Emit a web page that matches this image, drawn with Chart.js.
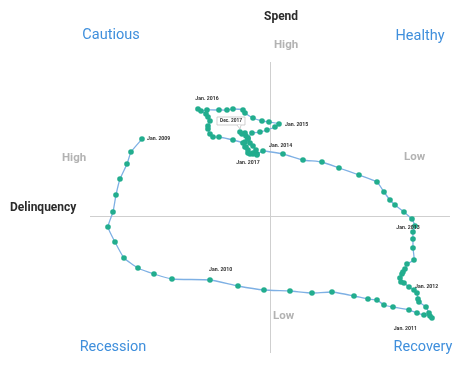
<!DOCTYPE html>
<html><head><meta charset="utf-8">
<script src="https://cdn.jsdelivr.net/npm/chart.js@4/dist/chart.umd.min.js"></script>
<style>html,body{margin:0;padding:0;background:#fff}#wrap{width:466px;height:366px}</style>
</head><body><div id="wrap"><canvas id="c" width="466" height="366"></canvas></div>
<script>
// Delinquency (x, positive = low delinquency) and Spend (y, positive = high spend), monthly Jan 2009 - Dec 2017
const delinquency = [-12.8,-13.9,-14.3,-15.0,-15.4,-15.7,-16.2,-15.5,-14.6,-13.2,-11.6,-9.8,
  -6.0,-3.2,-0.6,2.0,4.2,6.2,8.4,9.8,10.7,11.4,12.3,13.9,
  14.7,15.4,16.0,16.2,15.9,15.6,14.9,14.8,14.7,14.4,
  13.9,13.4,13.1,13.0,13.2,13.3,13.5,13.7,14.4,14.3,14.3,14.3,
  14.5,14.2,13.4,12.5,12.0,11.4,10.7,8.9,6.9,5.2,3.3,1.3,
  -0.7,-1.3,-1.7,-2.2,-2.4,-2.5,-2.2,-1.8,-1.0,-0.3,0.5,
  0.9,-0.1,-0.8,-1.7,-2.5,-2.7,-3.7,-4.3,-5.1,-6.3,-6.9,
  -7.2,-6.4,-6.2,-6.0,-6.2,-6.2,-6.0,-5.7,-5.1,-3.7,-2.7,-2.5,-2.2,
  -2.0,-1.7,-1.3,-1.4,-1.7,-2.0,-2.2,-2.4,-2.5,-2.8,-3.0];
const spend = [7.7,6.4,5.2,3.7,2.1,0.4,-1.1,-2.6,-4.2,-5.2,-5.8,-6.3,
  -6.4,-7.0,-7.4,-7.5,-7.7,-7.6,-8.0,-8.3,-8.4,-8.9,-9.1,-9.4,
  -9.7,-9.9,-10.0,-10.2,-9.7,-9.1,-8.6,-8.3,-7.7,-7.4,
  -7.1,-6.7,-6.6,-6.2,-5.8,-5.6,-5.3,-4.8,-4.4,-3.2,-2.3,-1.6,
  -1.0,-0.3,0.4,1.1,1.6,2.4,3.4,4.1,4.8,5.4,5.6,6.2,
  6.5,6.2,6.2,6.3,6.9,7.4,7.8,8.3,8.4,8.6,8.9,
  9.2,9.4,9.5,9.8,10.3,10.6,10.7,10.6,10.6,10.6,10.5,
  10.7,10.2,9.9,9.5,9.0,8.7,8.2,7.9,7.9,7.6,7.3,6.9,6.6,
  6.2,6.3,6.1,6.6,7.0,7.3,7.7,8.0,8.3,8.2,8.4];
const markerLabels = ["Jan. 2009","Jan. 2010","Jan. 2011","Jan. 2012","Jan. 2013","Jan. 2014","Jan. 2015","Jan. 2016","Jan. 2017"];
const markerIndex = [0,12,24,34,46,58,69,80,93];
const lastLabel = "Dec. 2017";
const quadrantLabels = ["Cautious","Healthy","Recession","Recovery"];
const axisTitles = ["Spend","Delinquency"];
const axisEnds = ["High","Low"];

const points = delinquency.map((x,i)=>({x:x,y:spend[i]}));
// label placement: [dx, dy, align]
const labelPlace = [[5,0,'left'],[-1,-10,'left'],[0,16,'right'],[6,0,'left'],[-7,2,'center'],[6,-5,'left'],[6,1,'left'],[9,-10,'center'],[-2,9,'center']];

const overlay = {
  id:'overlay',
  beforeDatasetsDraw(chart){
    const {ctx, chartArea:a, scales:{x,y}} = chart;
    const x0 = x.getPixelForValue(0), y0 = y.getPixelForValue(0);
    ctx.save();
    ctx.strokeStyle = '#cfcfcf'; ctx.lineWidth = 1;
    ctx.beginPath();
    ctx.moveTo(a.left, Math.round(y0)+0.5); ctx.lineTo(a.right, Math.round(y0)+0.5);
    ctx.moveTo(Math.round(x0)+0.5, a.top); ctx.lineTo(Math.round(x0)+0.5, a.bottom);
    ctx.stroke();
    // texts
    ctx.textBaseline = 'middle';
    ctx.fillStyle = '#3f8fdc'; ctx.font = '14.5px Roboto';
    ctx.textAlign = 'center';
    ctx.fillText(quadrantLabels[0], 111, 35);
    ctx.fillText(quadrantLabels[1], 420, 36);
    ctx.fillText(quadrantLabels[2], 113, 347);
    ctx.fillText(quadrantLabels[3], 423, 347);
    ctx.fillStyle = '#2b2b2b'; ctx.font = 'bold 12px Roboto';
    ctx.textAlign = 'left';
    ctx.fillText(axisTitles[0], x0-6, 17);
    ctx.fillText(axisTitles[1], 10, 208);
    ctx.fillStyle = '#b3b3b3'; ctx.font = 'bold 11.5px Roboto';
    ctx.fillText(axisEnds[0], x0+4, 45);
    ctx.fillText(axisEnds[0], 62, 158);
    ctx.fillText(axisEnds[1], 404, 157);
    ctx.fillText(axisEnds[1], x0+3, 316);
    ctx.restore();
  },
  afterDatasetsDraw(chart){
    const {ctx} = chart;
    const meta = chart.getDatasetMeta(0);
    ctx.save();
    ctx.font = 'bold 5.2px Roboto'; ctx.fillStyle = '#333'; ctx.textBaseline = 'middle';
    markerIndex.forEach((idx,k)=>{
      const el = meta.data[idx];
      const p = labelPlace[k];
      ctx.textAlign = p[2];
      ctx.fillText(markerLabels[k], el.x + p[0], el.y + p[1]);
    });
    // tooltip for last point
    const last = meta.data[meta.data.length-1];
    const bx = last.x - 23, by = last.y - 15, bw = 28, bh = 8;
    ctx.fillStyle = '#fff'; ctx.strokeStyle = '#bbb'; ctx.lineWidth = 0.7;
    ctx.beginPath(); ctx.rect(bx, by, bw, bh); ctx.fill(); ctx.stroke();
    ctx.beginPath();
    ctx.moveTo(last.x-3, by+bh); ctx.lineTo(last.x, last.y-3); ctx.lineTo(last.x+1, by+bh);
    ctx.fill(); ctx.stroke();
    ctx.fillStyle = '#333'; ctx.textAlign = 'center'; ctx.font = 'bold 4.8px Roboto';
    ctx.fillText(lastLabel, bx + bw/2, by + bh/2 + 0.3);
    ctx.restore();
  }
};

new Chart(document.getElementById('c'), {
  type:'scatter',
  data:{datasets:[{
    data: points,
    showLine: true,
    borderColor:'#7eb0e4',
    borderWidth:1.3,
    tension:0.15,
    pointRadius:2.8,
    pointBackgroundColor:'#22ad8e',
    pointBorderColor:'#22ad8e',
    pointBorderWidth:0,
    clip:false
  }]},
  options:{
    responsive:false, animation:false,
    layout:{padding:{left:90,right:16,top:62,bottom:13}},
    plugins:{legend:{display:false},tooltip:{enabled:false}},
    scales:{
      x:{type:'linear',min:-18,max:18,display:false},
      y:{type:'linear',min:-13.7,max:15.4,display:false}
    }
  },
  plugins:[overlay]
});
</script></body></html>
